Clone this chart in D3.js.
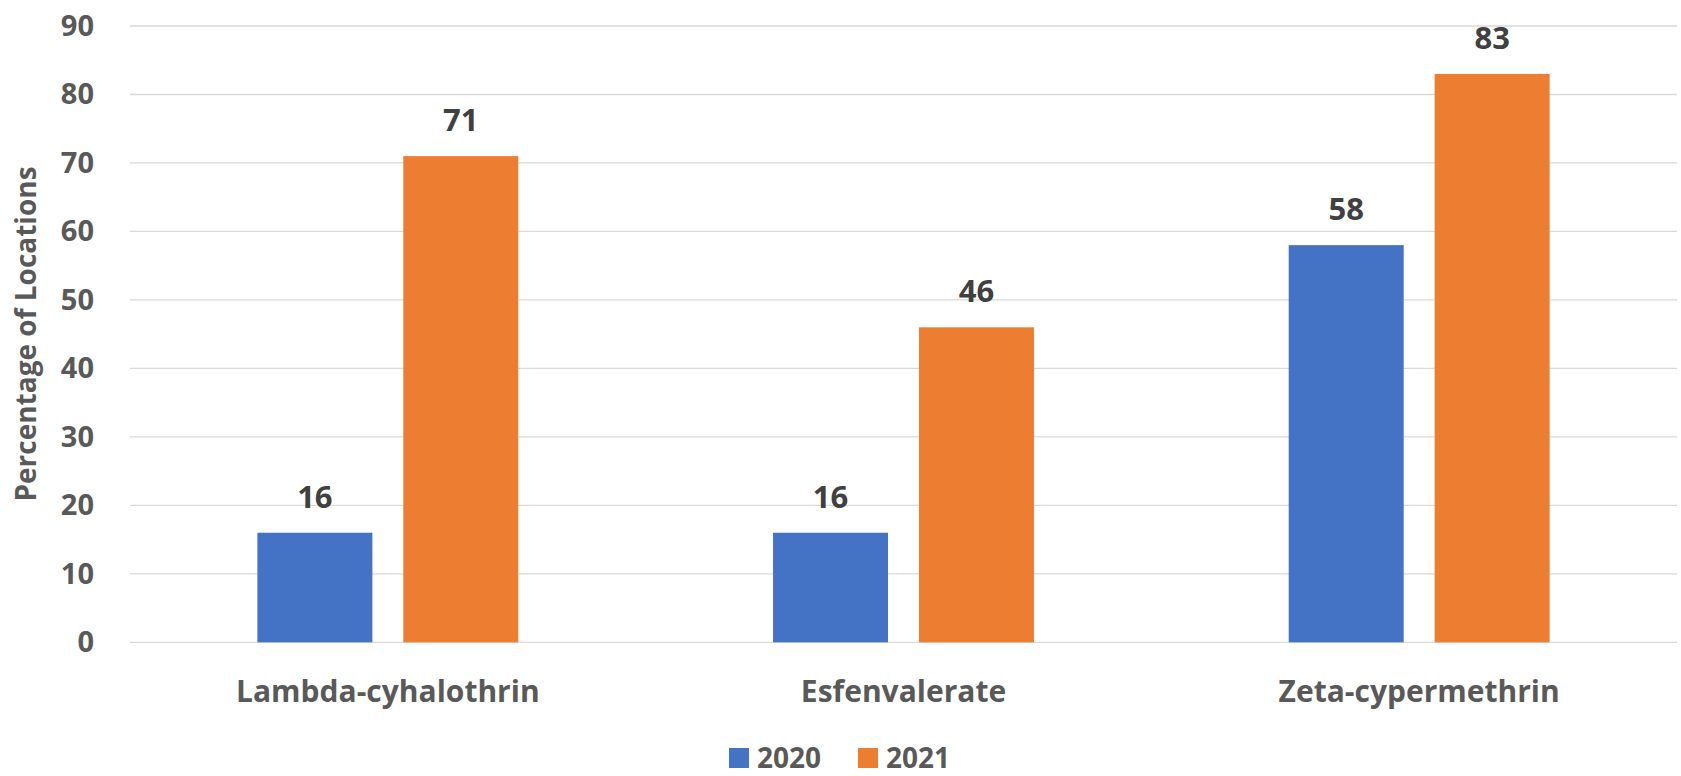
<!DOCTYPE html>
<html>
<head>
<meta charset="utf-8">
<script src="https://cdn.jsdelivr.net/npm/d3@7"></script>
<style>
  html, body { margin: 0; padding: 0; background: #fff; }
  svg { display: block; }
  text { font-family: "Open Sans", "DejaVu Sans", sans-serif; font-weight: 700; }
</style>
</head>
<body>
<svg id="chart" width="1681" height="776"></svg>
<script>
const categories = ["Lambda-cyhalothrin", "Esfenvalerate", "Zeta-cypermethrin"];
const seriesNames = ["2020", "2021"];
const values2020 = [16, 16, 58];
const values2021 = [71, 46, 83];
const yTicks = [0, 10, 20, 30, 40, 50, 60, 70, 80, 90];
const yTitle = "Percentage of Locations";
const colors = ["#4472C4", "#ED7D31"];

const seriesValues = [values2020, values2021];
const svg = d3.select("#chart");
const plotLeft = 130, plotRight = 1677, plotTop = 26, plotBottom = 642.3;

const y = d3.scaleLinear().domain([0, 90]).range([plotBottom, plotTop]);
const x0 = d3.scaleBand().domain(categories).range([plotLeft, plotRight])
  .paddingInner(0.494).paddingOuter(0.247);
const x1 = d3.scaleBand().domain(seriesNames).range([0, x0.bandwidth()])
  .paddingInner(0.212).paddingOuter(0);

// gridlines
svg.append("g").selectAll("line").data(yTicks).join("line")
  .attr("x1", plotLeft).attr("x2", plotRight)
  .attr("y1", d => y(d)).attr("y2", d => y(d))
  .attr("stroke", "#d9d9d9").attr("stroke-width", 1.3);

// y axis labels
const yAxis = d3.axisLeft(y).tickValues(yTicks).tickSize(0).tickPadding(0);
const gy = svg.append("g").attr("transform", `translate(94,0)`).call(yAxis);
gy.select(".domain").remove();
gy.selectAll("text").attr("font-size", 29).attr("fill", "#595959")
  .style("font-family", '"Open Sans", sans-serif').style("font-weight", 700);

// y title
svg.append("text")
  .attr("transform", `translate(36,334) rotate(-90)`)
  .attr("text-anchor", "middle")
  .attr("font-size", 28).attr("fill", "#595959")
  .text(yTitle);

// bars
const groups = svg.append("g").selectAll("g").data(categories).join("g")
  .attr("transform", d => `translate(${x0(d)},0)`);

groups.selectAll("rect").data((c, i) => seriesNames.map((s, j) => ({ s, v: seriesValues[j][i], j })))
  .join("rect")
  .attr("x", d => x1(d.s)).attr("width", x1.bandwidth())
  .attr("y", d => y(d.v)).attr("height", d => y(0) - y(d.v))
  .attr("fill", d => colors[d.j]);

groups.selectAll("text.val").data((c, i) => seriesNames.map((s, j) => ({ s, v: seriesValues[j][i], j })))
  .join("text").attr("class", "val")
  .attr("x", d => x1(d.s) + x1.bandwidth() / 2)
  .attr("y", d => y(d.v) - 25)
  .attr("text-anchor", "middle")
  .attr("font-size", 31).attr("fill", "#404040")
  .text(d => d.v);

// category labels
const xAxis = d3.axisBottom(x0).tickSize(0).tickPadding(0);
const gx = svg.append("g").attr("transform", `translate(0,${plotBottom})`).call(xAxis);
gx.select(".domain").remove();
gx.selectAll("text").attr("font-size", 30).attr("fill", "#595959")
  .attr("dy", null).attr("y", 59.5)
  .style("font-family", '"Open Sans", sans-serif').style("font-weight", 700);

// legend
const legendItems = [
  { name: seriesNames[0], color: colors[0], x: 729 },
  { name: seriesNames[1], color: colors[1], x: 858 }
];
const lg = svg.append("g").selectAll("g").data(legendItems).join("g")
  .attr("transform", d => `translate(${d.x},748)`);
lg.append("rect").attr("width", 20).attr("height", 20).attr("fill", d => d.color);
lg.append("text").attr("x", 28).attr("y", 20)
  .attr("font-size", 28).attr("fill", "#595959").text(d => d.name);
</script>
</body>
</html>
